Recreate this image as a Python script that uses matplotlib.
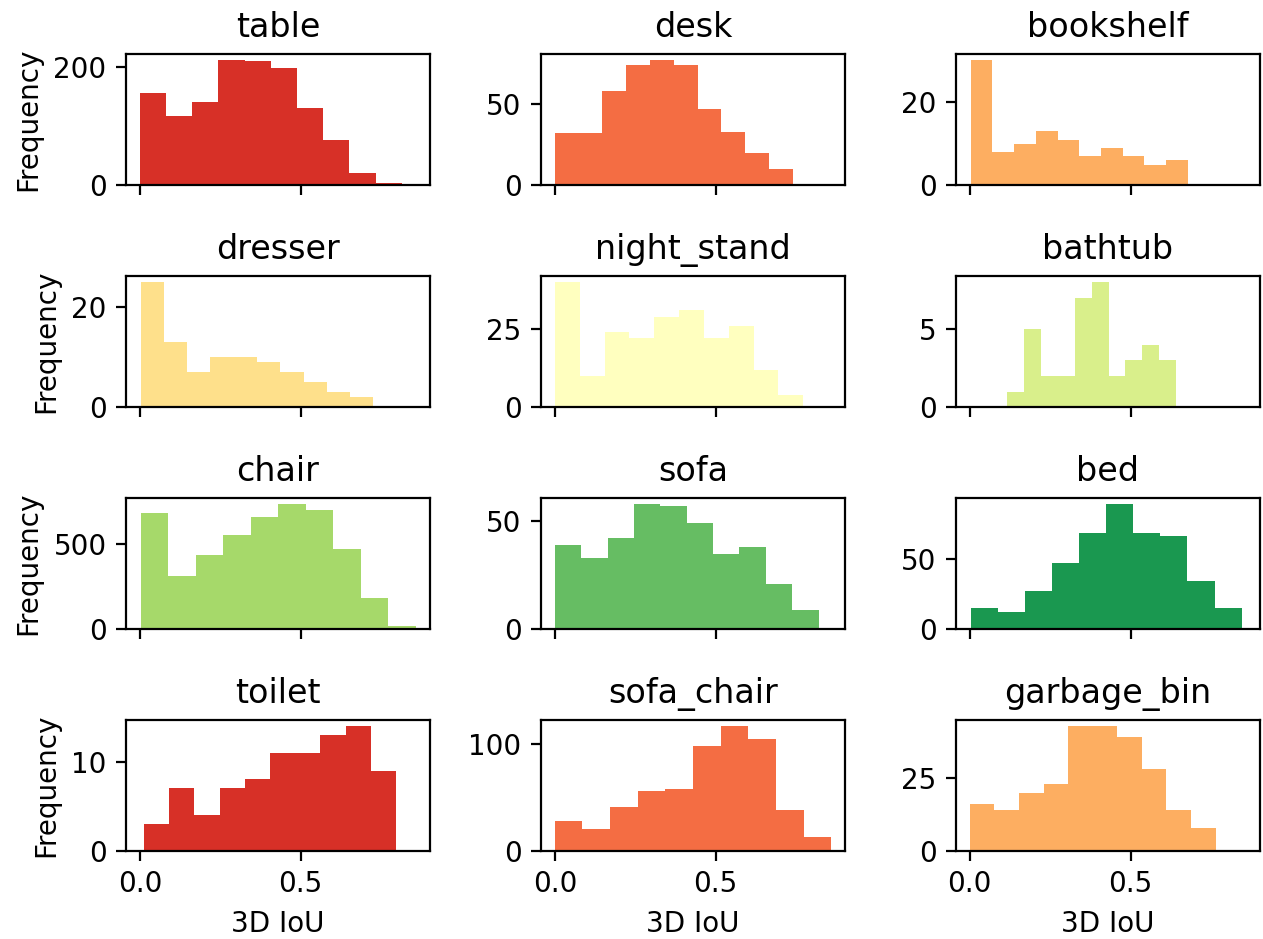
import numpy as np
import matplotlib
matplotlib.use("Agg")
import matplotlib.pyplot as plt

categories = ["table", "desk", "bookshelf", "dresser", "night_stand", "bathtub",
              "chair", "sofa", "bed", "toilet", "sofa_chair", "garbage_bin"]

# histogram range (min, max of 3D IoU) per category, 10 bins each
ranges = {
    "table": (0.0, 0.814),
    "desk": (0.0, 0.740),
    "bookshelf": (0.003, 0.678),
    "dresser": (0.002, 0.726),
    "night_stand": (0.0, 0.772),
    "bathtub": (0.115, 0.642),
    "chair": (0.002, 0.857),
    "sofa": (0.0, 0.820),
    "bed": (0.003, 0.845),
    "toilet": (0.0125, 0.796),
    "sofa_chair": (0.0, 0.859),
    "garbage_bin": (0.0, 0.764),
}

counts = {
    "table": [157, 118, 141, 212, 211, 199, 131, 77, 21, 5],
    "desk": [32, 32, 58, 74, 77, 74, 47, 33, 20, 10],
    "bookshelf": [30, 8, 10, 13, 11, 7, 9, 7, 5, 6],
    "dresser": [25, 13, 7, 10, 10, 9, 7, 5, 3, 2],
    "night_stand": [40, 10, 24, 22, 29, 31, 22, 26, 12, 4],
    "bathtub": [1, 5, 2, 2, 7, 8, 2, 3, 4, 3],
    "chair": [678, 308, 431, 549, 655, 731, 696, 467, 184, 20],
    "sofa": [39, 33, 42, 58, 57, 49, 35, 38, 21, 9],
    "bed": [15, 12, 27, 47, 68, 89, 68, 66, 34, 15],
    "toilet": [3, 7, 4, 7, 8, 11, 11, 13, 14, 9],
    "sofa_chair": [28, 21, 41, 56, 58, 98, 117, 105, 38, 13],
    "garbage_bin": [16, 14, 20, 23, 43, 43, 39, 28, 14, 8],
}

colors = ["#d73027", "#f46d43", "#fdae61", "#fee08b", "#ffffbf", "#d9ef8b",
          "#a6d96a", "#66bd63", "#1a9850", "#d73027", "#f46d43", "#fdae61"]

fig, axes = plt.subplots(4, 3, figsize=(1263 / 200, 939 / 200), dpi=200, sharex=True)
fig.subplots_adjust(left=0.0998, right=0.9976, top=0.9425, bottom=0.0937,
                    wspace=0.365, hspace=0.687)

for i, (ax, cat) in enumerate(zip(axes.flat, categories)):
    lo, hi = ranges[cat]
    edges = np.linspace(lo, hi, 11)
    c = np.array(counts[cat], dtype=float)
    ax.hist(edges[:-1], bins=edges, weights=c, color=colors[i])
    ax.set_title(cat)
    if i % 3 == 0:
        ax.set_ylabel("Frequency")
    if i >= 9:
        ax.set_xlabel("3D IoU")

fig.savefig("out.png", dpi=200)
